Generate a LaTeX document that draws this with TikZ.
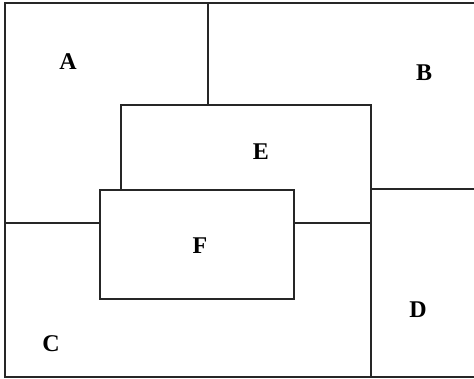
\documentclass[tikz,border=0pt]{standalone}
\usepackage{fontspec}
\setmainfont{Liberation Serif}
\begin{document}
\begin{tikzpicture}[x=1pt,y=-1pt,
  edge/.style={draw=black!85,line width=1.3pt},
  lbl/.style={font=\fontsize{24}{28}\selectfont\bfseries,inner sep=0pt}]
\useasboundingbox (0,0) rectangle (474,379);
\fill[white] (0,0) rectangle (474,379);
% outer frame (right side runs off the picture)
\draw[edge] (476,3) -- (5,3) -- (5,377) -- (476,377);
% A/B divider
\draw[edge] (208,3) -- (208,105);
% E
\draw[edge] (121,190) -- (121,105) -- (371,105) -- (371,377);
% B/D divider
\draw[edge] (371,189) -- (476,189);
% A/C divider and E bottom
\draw[edge] (5,223) -- (100,223);
\draw[edge] (294,223) -- (371,223);
% F
\draw[edge] (100,190) rectangle (294,299);
% labels
\node[lbl] (A) at (68,62) {A};
\node[lbl] (B) at (424,73) {B};
\node[lbl] (E) at (261,152) {E};
\node[lbl] (F) at (200,246) {F};
\node[lbl] (C) at (51,344) {C};
\node[lbl] (D) at (418,310) {D};
\end{tikzpicture}
\end{document}
